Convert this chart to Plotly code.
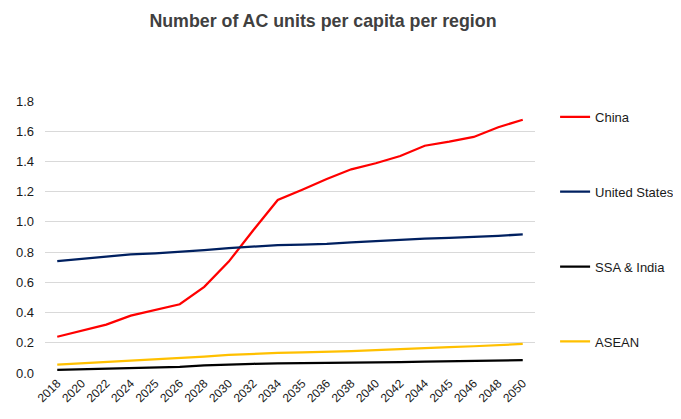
import plotly.graph_objects as go

years = ["2018", "2020", "2022", "2024", "2025", "2026", "2028", "2030", "2032", "2034",
         "2035", "2036", "2038", "2040", "2042", "2044", "2045", "2046", "2048", "2050"]

china = [0.24, 0.28, 0.32, 0.38, 0.417, 0.455, 0.57, 0.737, 0.945, 1.145,
         1.213, 1.284, 1.348, 1.388, 1.436, 1.504, 1.531, 1.562, 1.626, 1.676]
united_states = [0.741, 0.755, 0.77, 0.785, 0.792, 0.80, 0.813, 0.826, 0.837, 0.847,
                 0.850, 0.854, 0.865, 0.874, 0.883, 0.889, 0.895, 0.900, 0.908, 0.917]
ssa_india = [0.02, 0.024, 0.028, 0.032, 0.036, 0.04, 0.05, 0.057, 0.061, 0.063,
             0.064, 0.065, 0.067, 0.069, 0.072, 0.075, 0.077, 0.079, 0.082, 0.085]
asean = [0.055, 0.063, 0.072, 0.08, 0.087, 0.095, 0.108, 0.12, 0.127, 0.133,
         0.136, 0.139, 0.145, 0.152, 0.16, 0.167, 0.172, 0.177, 0.184, 0.192]

series = [
    ("China", china, "#FF0000"),
    ("United States", united_states, "#002060"),
    ("SSA & India", ssa_india, "#000000"),
    ("ASEAN", asean, "#FFC000"),
]

fig = go.Figure()
for name, vals, color in series:
    fig.add_trace(go.Scatter(x=years, y=vals, name=name, mode="lines",
                             legendgroup=name,
                             line=dict(color=color, width=2.25)))

# page body adds an 8px margin, so the figure is shifted up/left to compensate;
# it is a bit wider than the window so the legend can sit near the right edge
fig.update_layout(
    width=690, height=411,
    margin=dict(l=37, r=163, t=93, b=46),
    paper_bgcolor="white", plot_bgcolor="white",
    font=dict(family="Liberation Sans, Arial, sans-serif", size=13, color="#1a1a1a"),
    title=dict(text="<b>Number of AC units per capita per region</b>",
               x=0.4565, xanchor="center", y=0.968, yanchor="middle",
               font=dict(size=17.8, color="#404040")),
    legend=dict(x=1.041, xanchor="left", y=0.997, yanchor="top",
                tracegroupgap=55, font=dict(size=13)),
)
fig.update_xaxes(type="category", range=[-0.5, len(years) - 0.5], tickangle=-45,
                 showgrid=False, showline=False, ticks="", tickfont=dict(size=12),
                 automargin=False)
fig.update_yaxes(range=[0, 1.8], dtick=0.2, tickformat=".1f", showgrid=True,
                 gridcolor="#d9d9d9", gridwidth=1, zeroline=False, showline=False,
                 ticks="", ticklabelstandoff=10, tickfont=dict(size=13),
                 automargin=False)

fig.write_html("out.html")
